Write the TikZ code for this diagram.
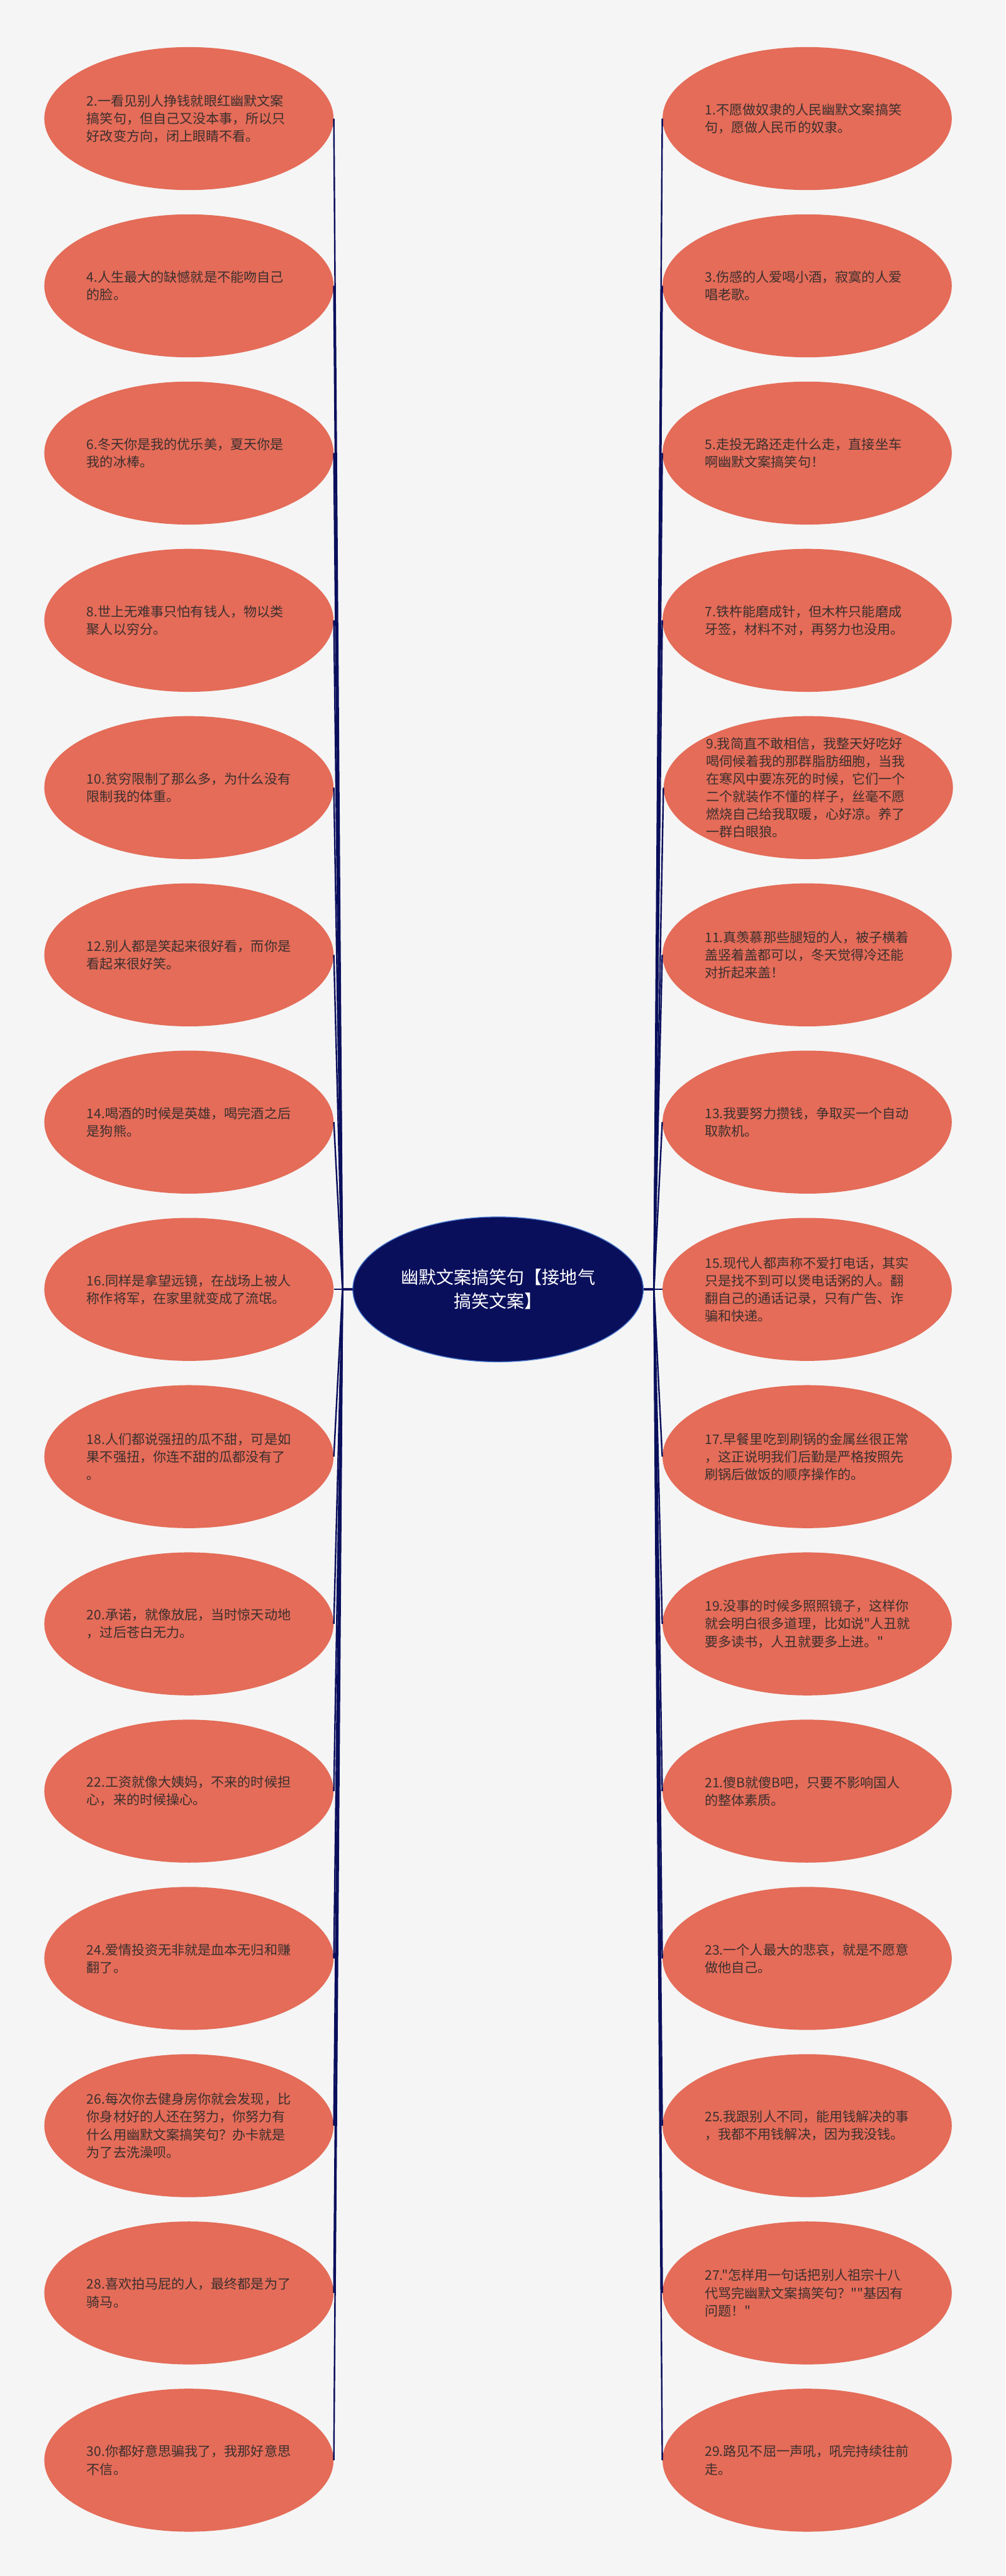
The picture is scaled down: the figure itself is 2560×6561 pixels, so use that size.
\documentclass[tikz,border=0pt]{standalone}
\usepackage{fontspec}
\setmainfont{Noto Sans CJK SC}[Ligatures=TeXOff]
\usepackage{xcolor}
\usetikzlibrary{shapes.geometric}
\definecolor{coral}{HTML}{E46C58}
\definecolor{navy}{HTML}{0A0F5C}
\definecolor{ink}{HTML}{3C2F2F}
\definecolor{paper}{HTML}{F5F5F5}
\definecolor{rim}{HTML}{4A7BD0}

\begin{document}
\begin{tikzpicture}[x=0.01cm, y=-0.01cm,
  joke/.style={ellipse, fill=coral, text=ink, inner sep=0pt,
               minimum width=7.36cm, minimum height=3.64cm,
               text width=5.2cm, align=left,
               font=\fontsize{9.6pt}{12.8pt}\selectfont},
  topic/.style={ellipse, fill=navy, draw=rim, line width=0.6pt,
                text=white, inner sep=0pt, align=center,
                minimum width=7.39cm, minimum height=3.69cm,
                font=\fontsize{12.8pt}{17.4pt}\selectfont},
  link/.style={draw=navy, line width=1.1pt}]
\fill[paper] (0,0) rectangle (2560,6561);

\node[topic] (T) at (1268,3284) {幽默文案搞笑句【接地气\\搞笑文案】};
\coordinate (lhub) at (872,3284);
\coordinate (rhub) at (1665,3284);

% left column
\node[joke] (J2) at (481,302)
  {2.一看见别人挣钱就眼红幽默文案\\搞笑句，但自己又没本事，所以只\\好改变方向，闭上眼睛不看。};
\node[joke] (J4) at (481,728) {4.人生最大的缺憾就是不能吻自己\\的脸。};
\node[joke] (J6) at (481,1154) {6.冬天你是我的优乐美，夏天你是\\我的冰棒。};
\node[joke] (J8) at (481,1580) {8.世上无难事只怕有钱人，物以类\\聚人以穷分。};
\node[joke] (J10) at (481,2006) {10.贫穷限制了那么多，为什么没有\\限制我的体重。};
\node[joke] (J12) at (481,2432) {12.别人都是笑起来很好看，而你是\\看起来很好笑。};
\node[joke] (J14) at (481,2858) {14.喝酒的时候是英雄，喝完酒之后\\是狗熊。};
\node[joke] (J16) at (481,3284)
  {16.同样是拿望远镜，在战场上被人\\称作将军，在家里就变成了流氓。};
\node[joke] (J18) at (481,3710)
  {18.人们都说强扭的瓜不甜，可是如\\果不强扭，你连不甜的瓜都没有了\\。};
\node[joke] (J20) at (481,4136) {20.承诺，就像放屁，当时惊天动地\\，过后苍白无力。};
\node[joke] (J22) at (481,4562) {22.工资就像大姨妈，不来的时候担\\心，来的时候操心。};
\node[joke] (J24) at (481,4988) {24.爱情投资无非就是血本无归和赚\\翻了。};
\node[joke] (J26) at (481,5414)
  {26.每次你去健身房你就会发现，比\\你身材好的人还在努力，你努力有\\什么用幽默文案搞笑句？办卡就是\\为了去洗澡呗。};
\node[joke] (J28) at (481,5840) {28.喜欢拍马屁的人，最终都是为了\\骑马。};
\node[joke] (J30) at (481,6266) {30.你都好意思骗我了，我那好意思\\不信。};

% right column
\node[joke] (J1) at (2055,302) {1.不愿做奴隶的人民幽默文案搞笑\\句，愿做人民币的奴隶。};
\node[joke] (J3) at (2055,728) {3.伤感的人爱喝小酒，寂寞的人爱\\唱老歌。};
\node[joke] (J5) at (2055,1154) {5.走投无路还走什么走，直接坐车\\啊幽默文案搞笑句！};
\node[joke] (J7) at (2055,1580) {7.铁杵能磨成针，但木杵只能磨成\\牙签，材料不对，再努力也没用。};
\node[joke] (J9) at (2058,2006)
  {9.我简直不敢相信，我整天好吃好\\喝伺候着我的那群脂肪细胞，当我\\在寒风中要冻死的时候，它们一个\\二个就装作不懂的样子，丝毫不愿\\燃烧自己给我取暖，心好凉。养了\\一群白眼狼。};
\node[joke] (J11) at (2055,2432)
  {11.真羡慕那些腿短的人，被子横着\\盖竖着盖都可以，冬天觉得冷还能\\对折起来盖！};
\node[joke] (J13) at (2055,2858) {13.我要努力攒钱，争取买一个自动\\取款机。};
\node[joke] (J15) at (2055,3284)
  {15.现代人都声称不爱打电话，其实\\只是找不到可以煲电话粥的人。翻\\翻自己的通话记录，只有广告、诈\\骗和快递。};
\node[joke] (J17) at (2055,3710)
  {17.早餐里吃到刷锅的金属丝很正常\\，这正说明我们后勤是严格按照先\\刷锅后做饭的顺序操作的。};
\node[joke] (J19) at (2055,4136)
  {19.没事的时候多照照镜子，这样你\\就会明白很多道理，比如说"人丑就\\要多读书，人丑就要多上进。"};
\node[joke] (J21) at (2055,4562) {21.傻B就傻B吧，只要不影响国人\\的整体素质。};
\node[joke] (J23) at (2055,4988) {23.一个人最大的悲哀，就是不愿意\\做他自己。};
\node[joke] (J25) at (2055,5414)
  {25.我跟别人不同，能用钱解决的事\\，我都不用钱解决，因为我没钱。};
\node[joke] (J27) at (2055,5840)
  {27."怎样用一句话把别人祖宗十八\\代骂完幽默文案搞笑句？""基因有\\问题！"};
\node[joke] (J29) at (2055,6266) {29.路见不屈一声吼，吼完持续往前\\走。};

\foreach \n in {2,4,...,30}
  \draw[link] (T.west) -- (lhub) -- (J\n.east);
\foreach \n in {1,3,...,29}
  \draw[link] (T.east) -- (rhub) -- (J\n.west);
\end{tikzpicture}
\end{document}
